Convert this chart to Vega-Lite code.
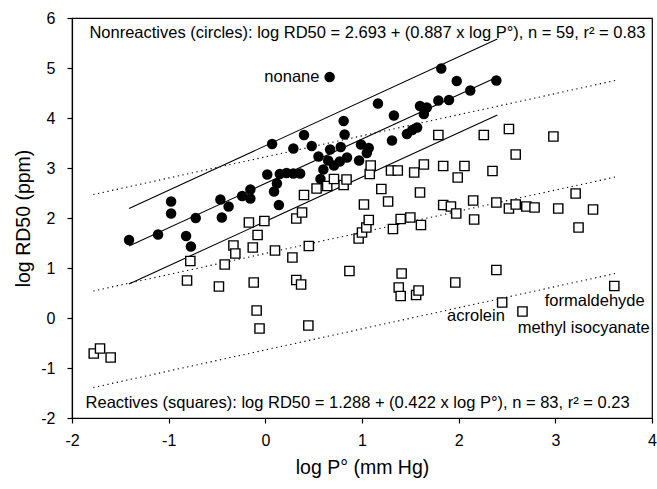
{
  "$schema": "https://vega.github.io/schema/vega-lite/v6.json",
  "width": 580,
  "height": 400,
  "autosize": {"type": "none"},
  "padding": {"left": 72, "top": 18, "right": 5, "bottom": 71},
  "background": "white",
  "config": {
    "font": "Liberation Sans",
    "view": {"stroke": "black", "strokeWidth": 1.2},
    "axis": {
      "domainColor": "black", "domainWidth": 1.2,
      "tickColor": "black", "tickWidth": 1.2, "tickSize": 5,
      "labelColor": "black", "titleColor": "black",
      "labelFont": "Liberation Sans", "titleFont": "Liberation Sans",
      "labelFontSize": 16, "titleFontSize": 19.5, "titleFontWeight": "normal",
      "grid": false, "labelFlush": false, "labelOverlap": false
    }
  },
  "datasets": {
    "circles": [
      {"logP": -1.41, "logRD50": 1.56}, {"logP": -1.11, "logRD50": 1.67}, {"logP": -0.975, "logRD50": 2.33},
      {"logP": -0.975, "logRD50": 2.09}, {"logP": -0.82, "logRD50": 1.64}, {"logP": -0.77, "logRD50": 1.43},
      {"logP": -0.72, "logRD50": 2.00}, {"logP": -0.465, "logRD50": 2.37}, {"logP": -0.45, "logRD50": 2.01},
      {"logP": -0.38, "logRD50": 2.23}, {"logP": -0.24, "logRD50": 2.44}, {"logP": -0.155, "logRD50": 2.57},
      {"logP": -0.155, "logRD50": 2.39}, {"logP": 0.02, "logRD50": 2.87}, {"logP": 0.07, "logRD50": 3.48},
      {"logP": 0.09, "logRD50": 2.53}, {"logP": 0.12, "logRD50": 2.69}, {"logP": 0.14, "logRD50": 2.26},
      {"logP": 0.15, "logRD50": 2.88}, {"logP": 0.22, "logRD50": 2.90}, {"logP": 0.29, "logRD50": 2.89},
      {"logP": 0.36, "logRD50": 2.89}, {"logP": 0.29, "logRD50": 3.39}, {"logP": 0.40, "logRD50": 3.66},
      {"logP": 0.48, "logRD50": 3.44}, {"logP": 0.55, "logRD50": 3.23}, {"logP": 0.57, "logRD50": 2.78},
      {"logP": 0.60, "logRD50": 2.97}, {"logP": 0.65, "logRD50": 3.15}, {"logP": 0.67, "logRD50": 3.37},
      {"logP": 0.71, "logRD50": 3.05}, {"logP": 0.665, "logRD50": 4.82}, {"logP": 0.77, "logRD50": 3.13},
      {"logP": 0.78, "logRD50": 3.42}, {"logP": 0.81, "logRD50": 3.94}, {"logP": 0.82, "logRD50": 3.67},
      {"logP": 0.845, "logRD50": 3.21}, {"logP": 0.97, "logRD50": 3.15}, {"logP": 0.99, "logRD50": 3.47},
      {"logP": 1.07, "logRD50": 3.40}, {"logP": 1.05, "logRD50": 3.30}, {"logP": 1.165, "logRD50": 4.29},
      {"logP": 1.33, "logRD50": 4.05}, {"logP": 1.31, "logRD50": 3.55}, {"logP": 1.465, "logRD50": 3.68},
      {"logP": 1.52, "logRD50": 3.76}, {"logP": 1.57, "logRD50": 3.81}, {"logP": 1.60, "logRD50": 4.24},
      {"logP": 1.67, "logRD50": 4.21}, {"logP": 1.64, "logRD50": 4.08}, {"logP": 1.79, "logRD50": 4.35},
      {"logP": 1.90, "logRD50": 4.36}, {"logP": 1.82, "logRD50": 4.99}, {"logP": 1.98, "logRD50": 4.74},
      {"logP": 2.12, "logRD50": 4.55}, {"logP": 2.39, "logRD50": 4.75}
    ],
    "squares": [
      {"logP": -1.775, "logRD50": -0.71}, {"logP": -1.71, "logRD50": -0.61}, {"logP": -1.60, "logRD50": -0.79},
      {"logP": -0.81, "logRD50": 0.75}, {"logP": -0.776, "logRD50": 1.14}, {"logP": -0.48, "logRD50": 0.63},
      {"logP": -0.42, "logRD50": 1.07}, {"logP": -0.33, "logRD50": 1.45}, {"logP": -0.31, "logRD50": 1.29},
      {"logP": -0.17, "logRD50": 1.91}, {"logP": -0.13, "logRD50": 1.41}, {"logP": -0.12, "logRD50": 0.71},
      {"logP": -0.09, "logRD50": 0.15}, {"logP": -0.08, "logRD50": 1.66}, {"logP": -0.06, "logRD50": -0.21},
      {"logP": -0.01, "logRD50": 1.94}, {"logP": 0.10, "logRD50": 1.35}, {"logP": 0.28, "logRD50": 1.21},
      {"logP": 0.32, "logRD50": 0.76}, {"logP": 0.37, "logRD50": 0.67}, {"logP": 0.32, "logRD50": 1.99},
      {"logP": 0.38, "logRD50": 2.11}, {"logP": 0.40, "logRD50": 2.46}, {"logP": 0.45, "logRD50": 1.44},
      {"logP": 0.445, "logRD50": -0.15}, {"logP": 0.53, "logRD50": 2.59}, {"logP": 0.64, "logRD50": 2.64},
      {"logP": 0.71, "logRD50": 2.78}, {"logP": 0.81, "logRD50": 2.66}, {"logP": 0.84, "logRD50": 2.77},
      {"logP": 0.87, "logRD50": 0.94}, {"logP": 0.965, "logRD50": 1.59}, {"logP": 1.0, "logRD50": 1.71},
      {"logP": 1.045, "logRD50": 1.81}, {"logP": 1.07, "logRD50": 1.96}, {"logP": 1.02, "logRD50": 2.27},
      {"logP": 1.08, "logRD50": 2.88}, {"logP": 1.09, "logRD50": 3.05}, {"logP": 1.20, "logRD50": 2.58},
      {"logP": 1.27, "logRD50": 2.33}, {"logP": 1.30, "logRD50": 2.95}, {"logP": 1.37, "logRD50": 2.95},
      {"logP": 1.32, "logRD50": 1.78}, {"logP": 1.40, "logRD50": 1.98}, {"logP": 1.50, "logRD50": 2.01},
      {"logP": 1.61, "logRD50": 1.86}, {"logP": 1.41, "logRD50": 0.89}, {"logP": 1.38, "logRD50": 0.61},
      {"logP": 1.40, "logRD50": 0.44}, {"logP": 1.56, "logRD50": 0.46}, {"logP": 1.585, "logRD50": 0.55},
      {"logP": 1.54, "logRD50": 2.91}, {"logP": 1.64, "logRD50": 3.07}, {"logP": 1.60, "logRD50": 2.51},
      {"logP": 1.79, "logRD50": 3.66}, {"logP": 1.84, "logRD50": 3.04}, {"logP": 1.99, "logRD50": 2.81},
      {"logP": 2.06, "logRD50": 3.04}, {"logP": 1.84, "logRD50": 2.26}, {"logP": 1.92, "logRD50": 2.23},
      {"logP": 1.975, "logRD50": 2.09}, {"logP": 1.965, "logRD50": 0.71}, {"logP": 2.15, "logRD50": 2.35},
      {"logP": 2.16, "logRD50": 1.97}, {"logP": 2.26, "logRD50": 3.66}, {"logP": 2.35, "logRD50": 2.94},
      {"logP": 2.39, "logRD50": 2.31}, {"logP": 2.39, "logRD50": 0.96}, {"logP": 2.45, "logRD50": 0.31},
      {"logP": 2.52, "logRD50": 3.78}, {"logP": 2.59, "logRD50": 3.27}, {"logP": 2.52, "logRD50": 2.19},
      {"logP": 2.59, "logRD50": 2.27}, {"logP": 2.66, "logRD50": 0.13}, {"logP": 2.70, "logRD50": 2.23},
      {"logP": 2.785, "logRD50": 2.21}, {"logP": 2.98, "logRD50": 3.63}, {"logP": 3.03, "logRD50": 2.19},
      {"logP": 3.21, "logRD50": 2.49}, {"logP": 3.24, "logRD50": 1.81}, {"logP": 3.39, "logRD50": 2.17},
      {"logP": 3.61, "logRD50": 0.64}
    ],
    "nonreactiveLines": [
      {"band": "upper", "logP": -1.41, "logRD50": 2.19}, {"band": "upper", "logP": 2.40, "logRD50": 5.58},
      {"band": "fit", "logP": -1.41, "logRD50": 1.44}, {"band": "fit", "logP": 2.40, "logRD50": 4.82},
      {"band": "lower", "logP": -1.41, "logRD50": 0.68}, {"band": "lower", "logP": 2.40, "logRD50": 4.06}
    ],
    "reactiveLines": [
      {"band": "upper", "logP": -1.78, "logRD50": 2.47}, {"band": "upper", "logP": 3.62, "logRD50": 4.75},
      {"band": "fit", "logP": -1.78, "logRD50": 0.54}, {"band": "fit", "logP": 3.62, "logRD50": 2.82},
      {"band": "lower", "logP": -1.78, "logRD50": -1.39}, {"band": "lower", "logP": 3.62, "logRD50": 0.89}
    ],
    "labels": [
      {"text": "Nonreactives (circles): log RD50 = 2.693 + (0.887 x log P°), n = 59, r² = 0.83", "logP": -1.82, "logRD50": 5.70},
      {"text": "Reactives (squares): log RD50 = 1.288 + (0.422 x log P°), n = 83, r² = 0.23", "logP": -1.86, "logRD50": -1.70},
      {"text": "nonane", "logP": -0.01, "logRD50": 4.82},
      {"text": "acrolein", "logP": 1.88, "logRD50": 0.04},
      {"text": "formaldehyde", "logP": 2.89, "logRD50": 0.34},
      {"text": "methyl isocyanate", "logP": 2.61, "logRD50": -0.19}
    ]
  },
  "encoding": {
    "x": {
      "field": "logP", "type": "quantitative",
      "scale": {"domain": [-2, 4], "nice": false, "zero": false},
      "axis": {"title": "log P° (mm Hg)", "values": [-2, -1, 0, 1, 2, 3, 4], "labelExpr": "'' + datum.value", "labelPadding": 9, "titlePadding": 10}
    },
    "y": {
      "field": "logRD50", "type": "quantitative",
      "scale": {"domain": [-2, 6], "nice": false, "zero": false},
      "axis": {"title": "log RD50 (ppm)", "values": [-2, -1, 0, 1, 2, 3, 4, 5, 6], "labelExpr": "'' + datum.value", "labelPadding": 12, "titlePadding": 7}
    }
  },
  "layer": [
    {
      "data": {"name": "nonreactiveLines"},
      "mark": {"type": "line", "color": "black", "strokeWidth": 1.1},
      "encoding": {"detail": {"field": "band"}}
    },
    {
      "data": {"name": "reactiveLines"},
      "mark": {"type": "line", "color": "black", "strokeWidth": 1.1, "strokeDash": [1.3, 3.5]},
      "encoding": {"detail": {"field": "band"}}
    },
    {
      "data": {"name": "circles"},
      "mark": {"type": "point", "shape": "circle", "filled": true, "color": "black", "size": 110, "opacity": 1}
    },
    {
      "data": {"name": "squares"},
      "mark": {"type": "point", "shape": "square", "filled": false, "fill": "white", "fillOpacity": 1, "stroke": "black", "strokeWidth": 1.4, "size": 85, "opacity": 1}
    },
    {
      "data": {"name": "labels"},
      "mark": {"type": "text", "align": "left", "baseline": "middle", "fontSize": 16.5, "font": "Liberation Sans", "color": "black"},
      "encoding": {"text": {"field": "text"}}
    }
  ]
}
